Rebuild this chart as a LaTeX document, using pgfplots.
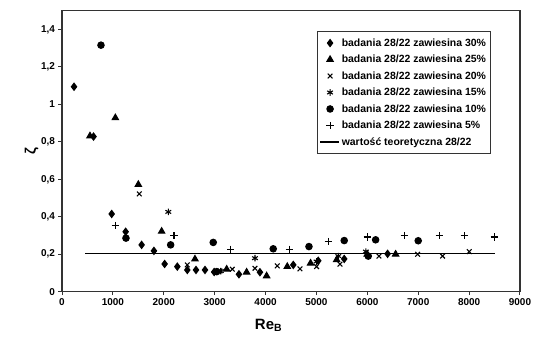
\documentclass[border=0pt]{standalone}
\usepackage{fontspec}
\setmainfont{Liberation Sans}
\usepackage{pgfplots}
\pgfplotsset{compat=1.18}
\begin{document}
\begin{tikzpicture}
\useasboundingbox (-62bp,-50.3bp) rectangle (471bp,291.7bp);
\begin{axis}[
  at={(0,0)}, anchor=south west,
  scale only axis, width=458bp, height=281bp,
  xmin=0, xmax=9000, ymin=0, ymax=1.5,
  xtick={0,1000,...,9000},
  ytick={0,0.2,0.4,0.6,0.8,1,1.2,1.4},
  tick align=outside, tick pos=left,
  major tick length=3.5bp,
  axis line style={line width=1.5pt, black!80},
  tick style={line width=1pt, black!80},
  /pgf/number format/assume math mode=true,
  /pgf/number format/use comma,
  /pgf/number format/1000 sep={},
  ticklabel style={font=\bfseries\fontsize{10}{11}\selectfont},
  xlabel={Re\textsubscript{B}},
  xlabel style={font=\bfseries\fontsize{15}{16}\selectfont, at={(rel axis cs:0.451,0)}, anchor=north, yshift=-24bp},
  ylabel={ζ},
  ylabel style={font=\bfseries\fontsize{15}{16}\selectfont, at={(rel axis cs:0,0.5)}, yshift=20bp},
  legend cell align=left,
  legend style={at={(0.557,0.928)}, anchor=north west, draw=black!80, line width=0.8pt,
    font=\bfseries\fontsize{10.5}{12}\selectfont, row sep=3bp, inner xsep=2bp, inner ysep=5bp,
    nodes={inner ysep=2.2bp}},
  every axis plot/.append style={only marks, black, line width=1.1pt},
]
\addplot[mark=diamond*, mark size=3.5bp] coordinates {
(236,1.094) (620,0.828) (976,0.415) (1251,0.32) (1565,0.25) (1807,0.218) (2017,0.148)
(2266,0.134) (2462,0.116) (2633,0.116) (2810,0.116) (2990,0.105) (3477,0.093) (3890,0.104)
(4545,0.143) (5035,0.165) (5546,0.175) (6398,0.202)};
\addlegendentry{badania 28/22 zawiesina 30\%}
\addplot[mark=triangle*, mark size=3.6bp] coordinates {
(550,0.831) (1048,0.928) (1500,0.572) (1958,0.322) (2613,0.174) (3236,0.12) (3628,0.104)
(4021,0.084) (4427,0.134) (4885,0.152) (5397,0.17) (5999,0.2) (6556,0.2)};
\addlegendentry{badania 28/22 zawiesina 25\%}
\addplot[mark=x, mark size=3.3bp] coordinates {
(1519,0.522) (2462,0.143) (3104,0.111) (3346,0.12) (3792,0.125) (4230,0.138) (4676,0.122)
(5003,0.134) (5462,0.147) (6228,0.19) (6988,0.2) (7479,0.19) (8003,0.214)};
\addlegendentry{badania 28/22 zawiesina 20\%}
\addplot[mark=asterisk, mark size=3.3bp] coordinates {
(2089,0.426) (3120,0.11) (3792,0.179) (5003,0.161) (5430,0.19) (5972,0.214)};
\addlegendentry{badania 28/22 zawiesina 15\%}
\addplot[mark=*, mark size=3.2bp] coordinates {
(766,1.316) (1257,0.286) (2135,0.25) (2972,0.263) (3040,0.107) (4151,0.229) (4853,0.241)
(5546,0.273) (6018,0.19) (6163,0.277) (7000,0.272)};
\addlegendentry{badania 28/22 zawiesina 10\%}
\addplot[mark=+, mark size=3.6bp] coordinates {
(1048,0.354) (2200,0.299) (3314,0.227) (4466,0.227) (5232,0.268) (5998,0.292) (6725,0.3)
(7413,0.299) (7904,0.299) (8493,0.292)};
\addlegendentry{badania 28/22 zawiesina 5\%}
\addplot[sharp plot, no marks, line width=1.6pt,
  legend image code/.code={\draw[line width=1.3pt] (-0.05cm,0cm) -- (0.62cm,0cm);}] coordinates {(452,0.205) (8507,0.205)};
\addlegendentry{wartość teoretyczna 28/22}
\end{axis}
\end{tikzpicture}
\end{document}
